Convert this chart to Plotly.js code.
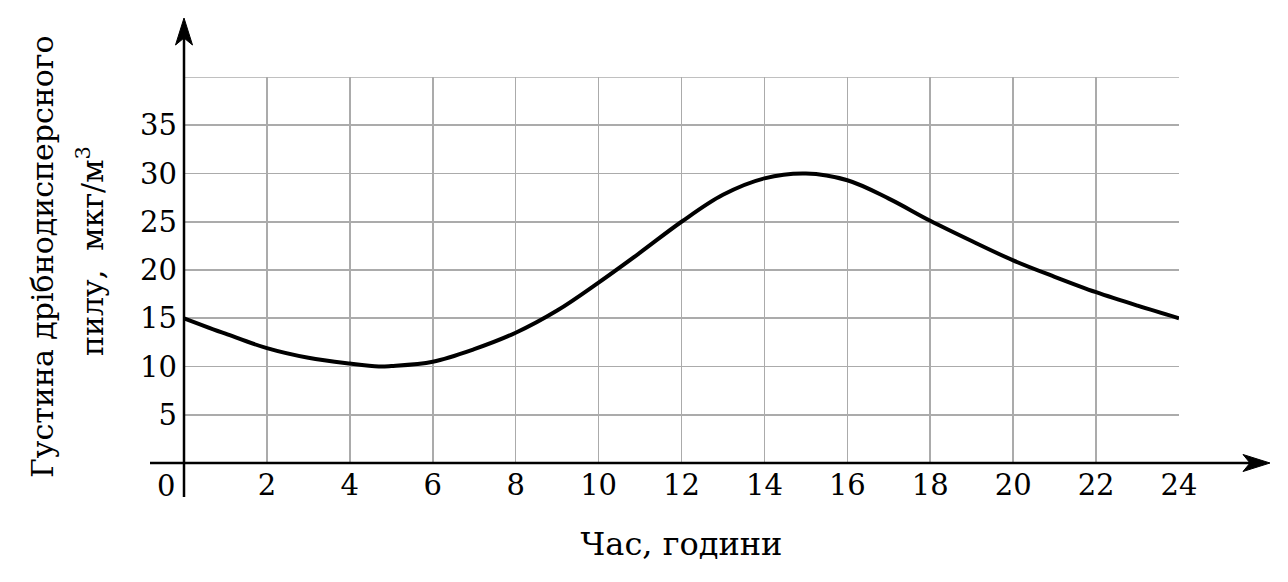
<!DOCTYPE html>
<html>
<head>
<meta charset="utf-8">
<script src="https://cdn.plot.ly/plotly-3.0.1.min.js"></script>
<style>html,body{margin:0;padding:0;background:#fff;}#chart{width:1288px;height:582px;}</style>
</head>
<body>
<div id="chart"></div>
<script>
// Data
const hours = [0, 1, 2, 3, 4, 4.7, 5, 6, 7, 8, 9, 10, 11, 12, 13, 14, 15, 16, 17, 18, 19, 20, 21, 22, 23, 24];
const density = [15, 13.4, 11.9, 10.9, 10.3, 10, 10.05, 10.5, 11.8, 13.5, 15.8, 18.7, 21.8, 25, 27.8, 29.5, 30, 29.3, 27.4, 25.1, 23, 21, 19.3, 17.7, 16.3, 15];
const xTickVals = [2, 4, 6, 8, 10, 12, 14, 16, 18, 20, 22, 24];
const xTickText = ['2', '4', '6', '8', '10', '12', '14', '16', '18', '20', '22', '24'];
const yTickVals = [5, 10, 15, 20, 25, 30, 35];
const yTickText = ['5', '10', '15', '20', '25', '30', '35'];
const yGridTop = 40;
const xTitle = 'Час, години';
const yTitleLine1 = 'Густина дрібнодисперсного';
const yTitleLine2 = 'пилу,\u00A0 мкг/м<sup>3</sup>';

const FONT = 'DejaVu Serif, Liberation Serif, serif';
const W = 995, H = 386; // plot area px
const px = d => d / W, py = d => d / H;
const GRID = '#ababab';

const trace = {
  x: hours, y: density, type: 'scatter', mode: 'lines',
  line: {color: '#000', width: 4, shape: 'spline', smoothing: 1},
  hoverinfo: 'skip', showlegend: false
};

const layout = {
  width: 1288, height: 582,
  margin: {l: 184, r: 109, t: 77, b: 119},
  paper_bgcolor: '#fff', plot_bgcolor: '#fff',
  font: {family: FONT, color: '#000', size: 30},
  showlegend: false,
  xaxis: {
    range: [0, 24], tickvals: xTickVals, ticktext: xTickText,
    showgrid: true, gridcolor: GRID, gridwidth: 1.6,
    zeroline: false, showline: false, ticks: '',
    ticklabelstandoff: 2,
    tickfont: {family: FONT, size: 29, color: '#000'},
    title: {text: xTitle, font: {family: FONT, size: 32, color: '#000'}, standoff: 31},
    fixedrange: true
  },
  yaxis: {
    range: [0, 40], tickvals: yTickVals, ticktext: yTickText,
    showgrid: true, gridcolor: GRID, gridwidth: 1.6,
    zeroline: false, showline: false, ticks: '',
    ticklabelstandoff: 6,
    tickfont: {family: FONT, size: 29, color: '#000'},
    fixedrange: true
  },
  shapes: [
    // top gridline at 40
    {type: 'line', xref: 'x', yref: 'y', x0: 0, x1: 24, y0: yGridTop, y1: yGridTop,
     line: {color: GRID, width: 1.6}, layer: 'below'},
    // y axis line
    {type: 'line', xref: 'paper', yref: 'paper', x0: 0, x1: 0, y0: py(-34), y1: py(430),
     line: {color: '#000', width: 2.5}, layer: 'above'},
    // x axis line
    {type: 'line', xref: 'paper', yref: 'paper', x0: px(-34), x1: px(1075), y0: 0, y1: 0,
     line: {color: '#000', width: 2.5}, layer: 'above'},
    // y arrowhead
    {type: 'path', xref: 'paper', yref: 'paper', layer: 'above',
     path: `M 0 ${py(445)} L ${px(8.5)} ${py(418)} L 0 ${py(425)} L ${px(-8.5)} ${py(418)} Z`,
     fillcolor: '#000', line: {color: '#000', width: 1}},
    // x arrowhead
    {type: 'path', xref: 'paper', yref: 'paper', layer: 'above',
     path: `M ${px(1086)} 0 L ${px(1059)} ${py(8.5)} L ${px(1066)} 0 L ${px(1059)} ${py(-8.5)} Z`,
     fillcolor: '#000', line: {color: '#000', width: 1}}
  ],
  annotations: [
    {text: '0', xref: 'paper', yref: 'paper', x: 0, y: 0, xanchor: 'right', yanchor: 'top',
     xshift: -7, yshift: -4, showarrow: false, font: {family: FONT, size: 29, color: '#000'}},
    {text: yTitleLine1, xref: 'paper', yref: 'paper', x: px(42 - 184), y: py(463 - 257),
     xanchor: 'center', yanchor: 'middle', textangle: -90, showarrow: false,
     font: {family: FONT, size: 30, color: '#000'}},
    {text: yTitleLine2, xref: 'paper', yref: 'paper', x: px(90 - 184), y: py(463 - 251),
     xanchor: 'center', yanchor: 'middle', textangle: -90, showarrow: false,
     font: {family: FONT, size: 30, color: '#000'}}
  ]
};

Plotly.newPlot('chart', [trace], layout, {displayModeBar: false, staticPlot: true});
</script>
</body>
</html>
